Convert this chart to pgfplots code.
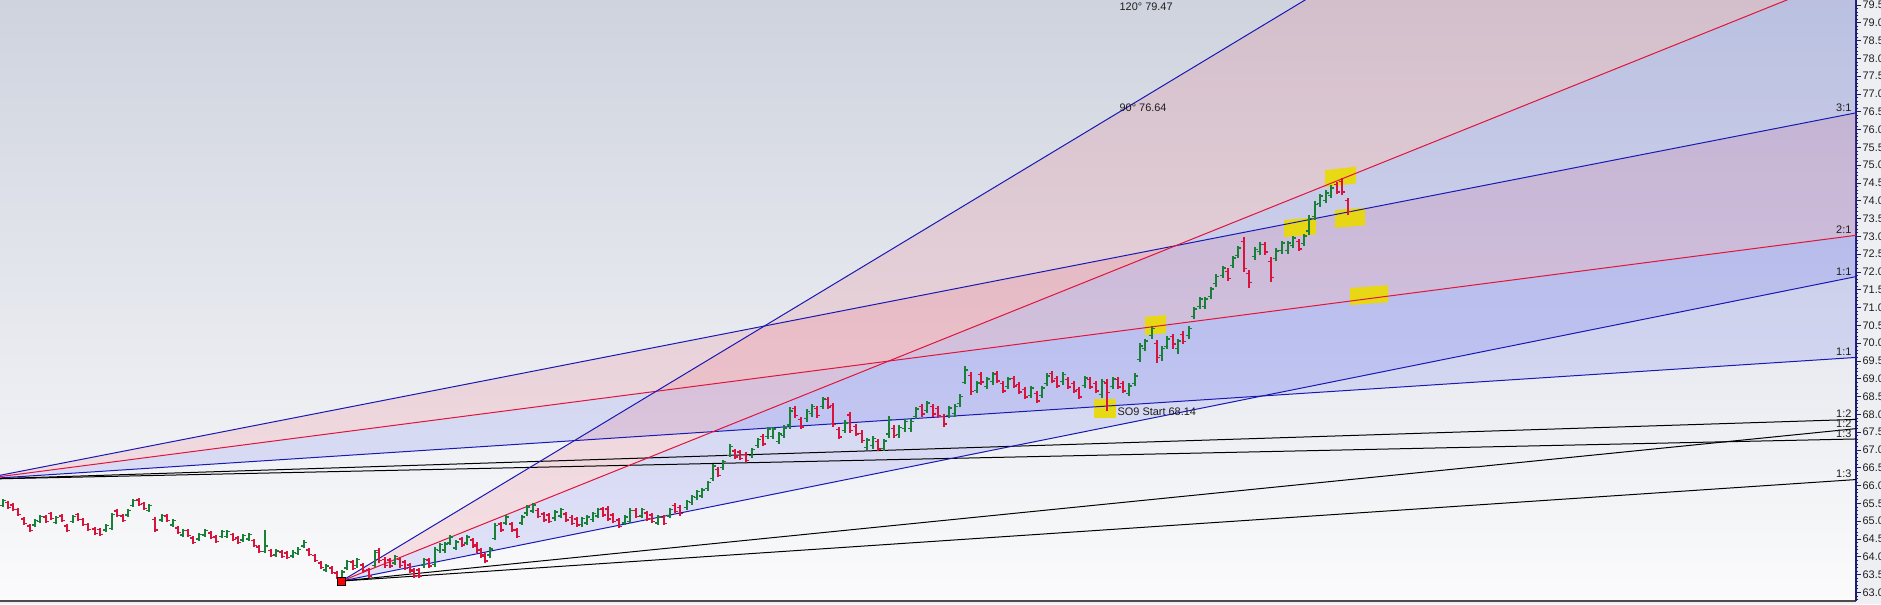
\documentclass[border=0pt]{standalone}
\usepackage{fontspec}
\setmainfont{Liberation Sans}
\usepackage{pgfplots}
\usepackage{pgfplotstable}
\pgfplotsset{compat=1.18}
\definecolor{bgtop}{RGB}{206,211,222}
\definecolor{bgmid}{RGB}{236,237,242}
\definecolor{bgbot}{RGB}{251,251,252}
\definecolor{lblbg}{RGB}{238,239,242}
\definecolor{upc}{RGB}{25,128,55}
\definecolor{dnc}{RGB}{215,20,60}
\definecolor{fanblue}{RGB}{25,25,180}
\definecolor{fanred}{RGB}{225,20,60}
\definecolor{pinkfill}{RGB}{240,80,100}
\definecolor{bluefill}{RGB}{60,70,240}
\definecolor{yel}{RGB}{235,218,0}
\definecolor{axcol}{RGB}{30,30,110}
\definecolor{txt}{RGB}{30,30,30}

\pgfdeclareplotmark{oleft}{\pgfpathmoveto{\pgfqpoint{-2.3pt}{0pt}}\pgfpathlineto{\pgfqpoint{0pt}{0pt}}\pgfusepathqstroke}
\pgfdeclareplotmark{cright}{\pgfpathmoveto{\pgfqpoint{0pt}{0pt}}\pgfpathlineto{\pgfqpoint{2.3pt}{0pt}}\pgfusepathqstroke}

\pgfplotstableread{
x u o h l c
3 1 65.45 65.63 65.39 65.58
8 0 65.52 65.58 65.34 65.39
13 0 65.46 65.52 65.28 65.33
18 0 65.32 65.38 65.14 65.19
24 0 65.06 65.12 64.88 64.93
30 0 64.87 64.93 64.69 64.74
35 1 64.89 65.07 64.83 65.02
40 1 65.00 65.18 64.94 65.13
46 0 65.12 65.18 64.94 64.99
51 0 65.21 65.27 65.03 65.08
56 1 64.97 65.15 64.91 65.10
62 0 65.15 65.21 64.97 65.02
67 0 64.87 64.93 64.69 64.74
73 1 65.00 65.18 64.94 65.13
78 0 65.18 65.24 65.00 65.05
83 0 65.04 65.10 64.86 64.91
88 0 64.90 64.96 64.72 64.77
95 0 64.78 64.84 64.60 64.65
100 0 64.76 64.82 64.58 64.63
106 1 64.75 64.93 64.69 64.88
112 1 64.80 65.23 64.75 65.18
117 0 65.29 65.35 65.11 65.16
123 0 65.15 65.21 64.97 65.02
128 1 65.17 65.35 65.11 65.30
133 1 65.45 65.63 65.39 65.58
139 0 65.60 65.66 65.42 65.47
144 0 65.49 65.55 65.31 65.36
149 1 65.31 65.49 65.25 65.44
155 0 65.05 65.12 64.70 64.75
162 1 65.03 65.21 64.97 65.16
167 0 65.15 65.21 64.97 65.02
173 1 64.89 65.07 64.83 65.02
178 0 64.81 64.87 64.63 64.68
183 1 64.61 64.79 64.55 64.74
188 0 64.73 64.79 64.55 64.60
193 0 64.53 64.59 64.35 64.40
199 1 64.50 64.68 64.44 64.63
205 1 64.61 64.79 64.55 64.74
211 0 64.67 64.73 64.49 64.54
216 0 64.56 64.62 64.38 64.43
222 1 64.58 64.76 64.52 64.71
227 1 64.58 64.76 64.52 64.71
233 0 64.62 64.68 64.44 64.49
238 0 64.53 64.59 64.35 64.40
243 1 64.47 64.65 64.41 64.60
249 1 64.50 64.68 64.44 64.63
254 0 64.45 64.51 64.27 64.32
259 0 64.28 64.34 64.10 64.15
265 1 64.15 64.75 64.11 64.30
271 0 64.17 64.23 63.99 64.04
276 1 64.05 64.23 63.99 64.16
282 0 64.14 64.20 63.96 64.01
287 0 64.11 64.17 63.93 63.98
293 1 64.02 64.20 63.96 64.13
298 1 64.10 64.28 64.04 64.21
304 1 64.30 64.48 64.24 64.41
309 0 64.19 64.25 64.01 64.06
315 0 64.03 64.09 63.85 63.90
321 0 63.83 63.89 63.65 63.70
326 1 63.63 63.81 63.57 63.74
332 0 63.69 63.75 63.51 63.56
337 0 63.55 63.61 63.37 63.42
342 1 63.40 63.62 63.32 63.57
347 1 63.69 63.92 63.62 63.86
353 0 63.85 63.92 63.62 63.68
357 1 63.75 63.98 63.68 63.92
363 0 63.77 63.84 63.54 63.60
369 0 63.63 63.70 63.40 63.46
375 1 63.76 64.19 63.71 64.12
379 0 64.18 64.25 63.83 63.90
385 0 63.93 64.00 63.70 63.76
390 0 63.91 63.98 63.68 63.74
395 1 63.83 64.06 63.76 64.00
400 0 63.93 64.00 63.70 63.76
405 0 63.85 63.92 63.62 63.68
410 0 63.77 63.84 63.54 63.60
414 0 63.63 63.70 63.40 63.46
419 0 63.63 63.70 63.40 63.46
424 1 63.75 63.98 63.68 63.92
429 0 63.91 63.98 63.68 63.74
435 1 63.78 64.27 63.71 64.20
440 1 64.17 64.40 64.10 64.34
445 1 64.19 64.42 64.12 64.36
450 1 64.39 64.62 64.32 64.56
456 1 64.25 64.48 64.18 64.42
462 0 64.50 64.57 64.27 64.33
467 1 64.39 64.62 64.32 64.56
473 0 64.47 64.54 64.24 64.30
477 0 64.35 64.42 64.12 64.18
481 0 64.19 64.26 63.96 64.02
485 0 64.05 64.12 63.82 63.88
490 1 64.05 64.28 63.98 64.22
495 1 64.52 64.95 64.47 64.88
501 0 64.92 64.99 64.69 64.75
506 1 64.95 65.18 64.88 65.12
512 0 64.92 64.99 64.69 64.75
517 0 64.75 64.82 64.52 64.58
522 1 64.95 65.18 64.88 65.12
527 1 65.23 65.46 65.16 65.40
533 1 65.29 65.52 65.22 65.46
538 0 65.31 65.38 65.08 65.14
544 0 65.20 65.27 64.97 65.03
549 0 65.17 65.24 64.94 65.00
555 1 65.09 65.32 65.02 65.26
561 1 65.15 65.38 65.08 65.32
566 0 65.20 65.27 64.97 65.03
572 0 65.11 65.18 64.88 64.94
577 0 65.06 65.13 64.83 64.89
582 1 64.90 65.13 64.83 65.07
587 1 64.95 65.18 64.88 65.12
593 1 65.04 65.27 64.97 65.21
598 1 65.15 65.38 65.08 65.32
603 0 65.34 65.41 65.11 65.17
608 0 65.34 65.44 65.00 65.06
613 0 65.17 65.24 64.94 65.00
619 0 65.03 65.10 64.80 64.86
625 1 64.95 65.18 64.88 65.12
630 1 65.00 65.38 64.95 65.30
636 0 65.31 65.38 65.08 65.14
642 1 65.15 65.38 65.08 65.32
647 0 65.23 65.30 65.00 65.06
652 0 65.17 65.24 64.94 65.00
658 1 64.95 65.18 64.88 65.12
664 0 65.11 65.18 64.88 64.94
670 1 65.15 65.38 65.08 65.32
675 0 65.45 65.52 65.22 65.28
680 0 65.39 65.46 65.16 65.22
687 1 65.38 65.61 65.31 65.55
692 1 65.52 65.75 65.45 65.69
697 1 65.66 65.89 65.59 65.83
702 1 65.71 65.94 65.64 65.88
708 1 65.91 66.14 65.84 66.08
713 1 66.20 66.62 66.12 66.55
718 0 66.46 66.53 66.23 66.29
723 1 66.50 66.73 66.43 66.67
730 1 66.85 67.18 66.80 67.10
735 0 66.97 67.04 66.74 66.80
740 0 66.94 67.01 66.71 66.77
746 0 66.88 66.95 66.65 66.71
752 1 66.84 67.07 66.77 67.01
758 1 67.12 67.35 67.05 67.29
763 0 67.38 67.46 67.10 67.17
768 1 67.38 67.66 67.30 67.59
773 1 67.38 67.66 67.30 67.59
779 1 67.24 67.52 67.16 67.45
784 1 67.41 67.69 67.33 67.62
790 1 67.70 68.20 67.60 68.10
795 0 68.17 68.25 67.89 67.96
801 0 67.86 67.94 67.58 67.65
807 1 67.88 68.16 67.80 68.09
812 1 68.02 68.30 67.94 68.23
817 0 68.17 68.25 67.89 67.96
823 1 68.22 68.50 68.14 68.43
828 0 68.42 68.50 68.14 68.21
833 0 68.25 68.32 67.65 67.72
839 0 67.58 67.66 67.30 67.37
845 1 67.55 67.83 67.47 67.76
850 0 67.98 68.07 67.48 67.55
856 0 67.66 67.74 67.38 67.45
862 0 67.47 67.55 67.19 67.26
867 1 67.07 67.35 66.99 67.28
873 1 67.12 67.40 67.04 67.33
878 0 67.24 67.32 66.96 67.03
884 1 67.04 67.32 66.96 67.25
889 1 67.45 67.95 67.35 67.85
894 0 67.61 67.69 67.33 67.40
899 1 67.43 67.71 67.35 67.64
905 1 67.60 67.88 67.52 67.81
911 1 67.60 67.88 67.52 67.81
916 1 67.94 68.22 67.86 68.15
922 0 68.22 68.30 67.94 68.01
927 1 68.11 68.39 68.03 68.32
933 0 68.22 68.30 67.94 68.01
938 0 68.17 68.25 67.89 67.96
944 0 67.94 68.02 67.66 67.73
949 1 67.97 68.25 67.89 68.18
955 1 68.02 68.30 67.94 68.23
960 1 68.30 68.58 68.22 68.51
965 1 68.90 69.35 68.85 69.25
971 0 69.10 69.20 68.55 68.65
977 1 68.67 68.95 68.59 68.88
981 0 69.12 69.20 68.84 68.91
987 1 68.78 69.06 68.70 68.99
993 1 68.92 69.20 68.84 69.13
997 0 69.15 69.23 68.87 68.94
1003 0 68.87 68.95 68.59 68.66
1008 1 68.78 69.06 68.70 68.99
1014 0 69.01 69.09 68.73 68.80
1019 0 68.84 68.92 68.56 68.63
1025 0 68.70 68.78 68.42 68.49
1031 1 68.53 68.81 68.45 68.74
1037 0 68.59 68.67 68.31 68.38
1042 1 68.53 68.81 68.45 68.74
1047 1 68.87 69.15 68.79 69.08
1052 0 69.15 69.23 68.87 68.94
1057 0 69.01 69.09 68.73 68.80
1063 1 68.92 69.20 68.84 69.13
1068 0 68.98 69.06 68.70 68.77
1074 0 68.87 68.95 68.59 68.66
1079 0 68.70 68.78 68.42 68.49
1085 1 68.81 69.09 68.73 69.02
1090 0 68.98 69.06 68.70 68.77
1096 0 68.87 68.95 68.59 68.66
1102 1 68.55 69.00 68.45 68.92
1107 0 68.88 69.00 68.10 68.62
1113 1 68.78 69.06 68.70 68.99
1118 0 68.98 69.06 68.70 68.77
1123 0 68.87 68.95 68.59 68.66
1129 1 68.59 68.87 68.51 68.80
1135 1 68.87 69.15 68.79 69.08
1140 1 69.55 70.01 69.47 69.92
1145 1 69.85 70.13 69.77 70.06
1152 1 70.21 70.49 70.13 70.42
1157 0 70.00 70.10 69.45 69.60
1162 1 69.65 69.93 69.50 69.86
1167 1 69.91 70.19 69.83 70.12
1173 0 70.19 70.27 69.85 69.98
1178 1 69.85 70.13 69.70 70.06
1183 0 70.25 70.33 69.97 70.04
1189 1 70.21 70.49 70.13 70.42
1194 1 70.75 71.03 70.67 70.96
1200 1 71.03 71.31 70.95 71.24
1205 1 71.03 71.31 70.95 71.24
1211 1 71.31 71.59 71.23 71.52
1216 1 71.67 71.95 71.59 71.88
1223 1 71.90 72.18 71.82 72.11
1228 0 72.02 72.10 71.74 71.81
1233 1 72.18 72.46 72.10 72.39
1238 1 72.46 72.74 72.38 72.67
1244 0 72.85 72.98 72.00 72.10
1249 0 71.95 72.05 71.55 71.70
1255 1 72.43 72.71 72.35 72.64
1260 1 72.57 72.85 72.49 72.78
1265 0 72.77 72.85 72.49 72.56
1271 0 72.30 72.42 71.72 71.85
1276 1 72.38 72.66 72.30 72.59
1282 1 72.60 72.88 72.52 72.81
1288 1 72.60 72.88 72.52 72.81
1293 1 72.74 73.02 72.66 72.95
1299 0 72.86 72.94 72.58 72.65
1304 1 72.80 73.08 72.72 73.01
1309 1 73.15 73.60 73.05 73.50
1315 1 73.55 74.00 73.45 73.90
1320 1 73.92 74.20 73.84 74.13
1326 1 74.01 74.29 73.93 74.22
1331 1 74.15 74.43 74.07 74.36
1337 0 74.46 74.54 74.18 74.25
1342 0 74.55 74.64 74.16 74.25
1348 0 74.00 74.08 73.60 73.70
}\bars

\begin{document}
\begin{tikzpicture}
\useasboundingbox (0,-2.25pt) rectangle (1410.75pt,450.75pt);
\fill[lblbg] (0,-2.25pt) rectangle (1410.75pt,450.75pt);
\begin{axis}[
  at={(0,0)}, anchor=south west,
  width=1392pt, height=450.75pt, scale only axis,
  xmin=0, xmax=1856, ymin=62.76, ymax=79.64,
  axis x line*=bottom, axis y line*=right,
  x axis line style={line width=2pt, color=black!70},
  y axis line style={line width=0.8pt, color=axcol},
  xtick=\empty,
  ytick distance=0.5, minor y tick num=4,
  tick align=outside, major tick length=3.75pt, minor tick length=1.8pt,
  y tick style={color=axcol, line width=0.6pt},
  yticklabel style={font=\fontsize{8.2}{9}\selectfont, color=txt, inner sep=1pt},
  /pgf/number format/.cd, fixed, fixed zerofill, precision=1, assume math mode=true,
  /pgfplots/.cd,
  axis background/.style={top color=bgtop, middle color=bgmid, bottom color=bgbot},
  clip=true,
  hl/.style={only marks, mark=*, mark size=0pt, mark options={draw=none, fill=none},
    error bars/.cd, y dir=both, y explicit, error mark=none,
    error bar style={line width=1.05pt, color=#1}},
]
% ---- fan fills ----
\addplot[draw=none, fill=pinkfill, fill opacity=0.15] coordinates {(-20,66.18) (1856,76.47) (1856,73.03)} -- cycle;
\addplot[draw=none, fill=bluefill, fill opacity=0.13] coordinates {(-20,66.18) (1856,73.03) (1856,69.60)} -- cycle;
\addplot[draw=none, fill=pinkfill, fill opacity=0.15] coordinates {(341.5,63.32) (1856,88.97) (1856,80.42)} -- cycle;
\addplot[draw=none, fill=bluefill, fill opacity=0.13] coordinates {(341.5,63.32) (1856,80.42) (1856,71.87)} -- cycle;
% ---- yellow highlight boxes ----
\addplot[draw=none, fill=yel, fill opacity=0.9] coordinates {(1094,67.90) (1116,67.90) (1116,68.43) (1094,68.43)} -- cycle;
\addplot[draw=none, fill=yel, fill opacity=0.9] coordinates {(1145,70.23) (1166,70.28) (1166,70.79) (1145,70.74)} -- cycle;
\addplot[draw=none, fill=yel, fill opacity=0.9] coordinates {(1284,72.98) (1316,73.06) (1316,73.54) (1284,73.46)} -- cycle;
\addplot[draw=none, fill=yel, fill opacity=0.9] coordinates {(1325,74.39) (1356,74.49) (1356,74.96) (1325,74.86)} -- cycle;
\addplot[draw=none, fill=yel, fill opacity=0.9] coordinates {(1335,73.24) (1365,73.31) (1365,73.81) (1335,73.74)} -- cycle;
\addplot[draw=none, fill=yel, fill opacity=0.9] coordinates {(1350,71.07) (1388,71.15) (1388,71.63) (1350,71.55)} -- cycle;
% ---- left fan lines ----
\addplot[fanblue, line width=0.75pt] coordinates {(-20,66.18) (1856,76.47)};
\addplot[fanred, line width=0.75pt] coordinates {(-20,66.18) (1856,73.03)};
\addplot[fanblue, line width=0.75pt] coordinates {(-20,66.18) (1856,69.60)};
\addplot[black, line width=0.75pt] coordinates {(-20,66.18) (1856,67.86)};
\addplot[black, line width=0.75pt] coordinates {(-20,66.18) (1856,67.31)};
% ---- right fan lines ----
\addplot[fanblue, line width=0.75pt] coordinates {(341.5,63.32) (1856,88.97)};
\addplot[fanred, line width=0.75pt] coordinates {(341.5,63.32) (1856,80.42)};
\addplot[fanblue, line width=0.75pt] coordinates {(341.5,63.32) (1856,71.87)};
\addplot[black, line width=0.75pt] coordinates {(341.5,63.32) (1856,67.60)};
\addplot[black, line width=0.75pt] coordinates {(341.5,63.32) (1856,66.17)};
% ---- OHLC bars (rows of the other colour land at y=0, outside the clipped axis) ----
\addplot[hl=upc]
  table[x=x, y expr={\thisrow{u}*(\thisrow{h}+\thisrow{l})/2}, y error expr={\thisrow{u}*(\thisrow{h}-\thisrow{l})/2}] {\bars};
\addplot[hl=dnc]
  table[x=x, y expr={(1-\thisrow{u})*(\thisrow{h}+\thisrow{l})/2}, y error expr={(1-\thisrow{u})*(\thisrow{h}-\thisrow{l})/2}] {\bars};
\addplot[only marks, mark=oleft, mark options={draw=upc, line width=1pt}] table[x=x, y expr={\thisrow{u}*\thisrow{o}}] {\bars};
\addplot[only marks, mark=cright, mark options={draw=upc, line width=1pt}] table[x=x, y expr={\thisrow{u}*\thisrow{c}}] {\bars};
\addplot[only marks, mark=oleft, mark options={draw=dnc, line width=1pt}] table[x=x, y expr={(1-\thisrow{u})*\thisrow{o}}] {\bars};
\addplot[only marks, mark=cright, mark options={draw=dnc, line width=1pt}] table[x=x, y expr={(1-\thisrow{u})*\thisrow{c}}] {\bars};
% ---- pivot marker ----
\addplot[only marks, mark=square*, mark size=3pt, mark options={fill=red, draw=black, line width=0.6pt}] coordinates {(341.5,63.32)};
% ---- labels ----
\begin{scope}[every node/.style={font=\fontsize{8.2}{9}\selectfont, text=txt, inner sep=1pt}]
\node[anchor=south east] at (axis cs:1853,76.47) {3:1};
\node[anchor=south east] at (axis cs:1853,73.03) {2:1};
\node[anchor=south east] at (axis cs:1853,71.87) {1:1};
\node[anchor=south east] at (axis cs:1853,69.60) {1:1};
\node[anchor=south east] at (axis cs:1853,67.86) {1:2};
\node[anchor=south east] at (axis cs:1853,67.60) {1:2};
\node[anchor=south east] at (axis cs:1853,67.31) {1:3};
\node[anchor=south east] at (axis cs:1853,66.17) {1:3};
\node[anchor=west] at (axis cs:1118,79.44) {120° 79.47};
\node[anchor=west] at (axis cs:1118,76.61) {90° 76.64};
\node[anchor=west] at (axis cs:1116,68.08) {SO9 Start 68.14};
\end{scope}
\end{axis}
\end{tikzpicture}
\end{document}
